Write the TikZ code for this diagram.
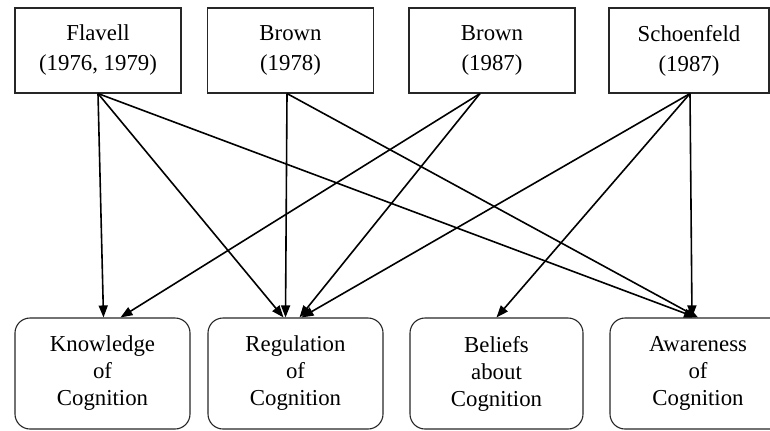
\documentclass[tikz,border=0pt]{standalone}
\usepackage{fontspec}
\setmainfont{Liberation Serif}
\usetikzlibrary{arrows.meta}
\tikzset{
  linkarrow/.style={-{Triangle[length=6pt,width=4.5pt]},line width=0.8pt,draw=black},
  source/.style={draw=black!85,line width=0.55pt,align=center,minimum width=83pt,minimum height=42.5pt,inner sep=2pt,font=\fontsize{11.4}{15}\selectfont},
  construct/.style={draw=black!85,line width=0.55pt,rounded corners=7.5pt,align=center,minimum width=87.5pt,minimum height=55.5pt,inner sep=2pt,font=\fontsize{11.4}{13.5}\selectfont}
}

\begin{document}
\begin{tikzpicture}[x=0.5pt,y=0.5pt]
  % the page is cut at the right and bottom edges, as in the scan
  \useasboundingbox (0,0) rectangle (770,430);
  \clip (0,0) rectangle (770,430);

  \node[source] (flavell) at (98,379.5) {Flavell\\(1976, 1979)};
  \node[source] (brownA) at (290.5,379.5) {Brown\\(1978)};
  \node[source] (brownB) at (492,379.5) {Brown\\(1987)};
  \node[source,minimum width=80pt] (schoenfeld) at (689,379.5) {Schoenfeld\\(1987)};

  \node[construct] (knowledge) at (102.5,56.5) {Knowledge\\of\\Cognition};
  \node[construct] (regulation) at (295.5,56.5) {Regulation\\of\\Cognition};
  \node[construct,minimum width=86.5pt] (beliefs) at (496.5,56.5) {Beliefs\\about\\Cognition};
  \node[construct,minimum width=88pt] (awareness) at (698,56.5) {Awareness\\of\\Cognition};

  \draw[linkarrow] (flavell.south) -- ([xshift=0.5pt]knowledge.north);
  \draw[linkarrow] (flavell.south) -- ([xshift=-6pt]regulation.north);
  \draw[linkarrow] (flavell.south) -- ([xshift=-1pt]awareness.north);

  \draw[linkarrow] ([xshift=-1.75pt]brownA.south) -- ([xshift=-5pt]regulation.north);
  \draw[linkarrow] ([xshift=-1.75pt]brownA.south) -- ([xshift=0pt]awareness.north);

  \draw[linkarrow] ([xshift=-6pt]brownB.south) -- ([xshift=9pt]knowledge.north);
  \draw[linkarrow] ([xshift=-6pt]brownB.south) -- ([xshift=2pt]regulation.north);

  \draw[linkarrow] ([xshift=0.5pt]schoenfeld.south) -- ([xshift=3pt]regulation.north);
  \draw[linkarrow] ([xshift=0.5pt]schoenfeld.south) -- (beliefs.north);
  \draw[linkarrow] ([xshift=0.5pt]schoenfeld.south) -- ([xshift=-3pt]awareness.north);
\end{tikzpicture}
\end{document}
